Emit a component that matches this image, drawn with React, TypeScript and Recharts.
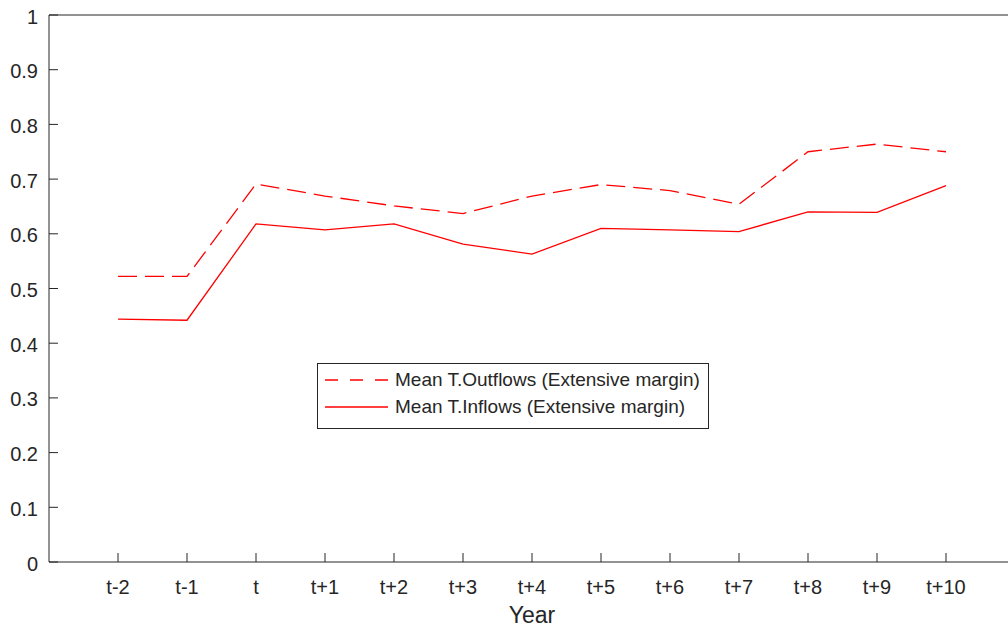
import { Legend, Line, LineChart, ReferenceLine, XAxis, YAxis } from "recharts";

const categories = ["t-2", "t-1", "t", "t+1", "t+2", "t+3", "t+4", "t+5", "t+6", "t+7", "t+8", "t+9", "t+10"];
const outflows = [0.522, 0.522, 0.691, 0.669, 0.651, 0.637, 0.669, 0.69, 0.679, 0.654, 0.75, 0.764, 0.75];
const inflows = [0.444, 0.442, 0.618, 0.607, 0.618, 0.581, 0.563, 0.61, 0.607, 0.604, 0.64, 0.639, 0.688];
const yTicks = [0, 0.1, 0.2, 0.3, 0.4, 0.5, 0.6, 0.7, 0.8, 0.9, 1];
const xTicks = categories.map((_, i) => i + 1);

const data = categories.map((c, i) => ({
  pos: i + 1,
  label: c,
  outflows: outflows[i],
  inflows: inflows[i],
}));

const FONT = "'Liberation Sans', Arial, sans-serif";
const AXIS = "#262626";
const RED = "#ff0000";
const DASH = "19 8";
const LEGEND_DASH = "13 12";

// plot box in page coords (chart sits at the page origin)
const TOP = 15;
const BOTTOM = 562;
const LEFT = 49;
const RIGHT = 1015;

// MATLAB-style ticks point inward
function BottomTick({ x, payload }: any) {
  return (
    <g>
      <line x1={x} x2={x} y1={BOTTOM} y2={BOTTOM - 9} stroke={AXIS} />
      <text x={x} y={BOTTOM + 25} textAnchor="middle" dominantBaseline="central" fill={AXIS} fontSize={20} fontFamily={FONT}>
        {categories[payload.value - 1]}
      </text>
    </g>
  );
}

function TopTick({ x }: any) {
  return <line x1={x} x2={x} y1={TOP} y2={TOP + 9} stroke={AXIS} />;
}

function LeftTick({ y, payload }: any) {
  const v = Number(payload.value);
  return (
    <g>
      <line x1={LEFT} x2={LEFT + 9} y1={y} y2={y} stroke={AXIS} />
      <text x={LEFT - 11} y={y + 1.5} textAnchor="end" dominantBaseline="central" fill={AXIS} fontSize={20} fontFamily={FONT}>
        {String(Number(v.toFixed(1)))}
      </text>
    </g>
  );
}

function RightTick({ y }: any) {
  return <line x1={RIGHT} x2={RIGHT - 9} y1={y} y2={y} stroke={AXIS} />;
}

function LegendBox() {
  const rows = [
    { name: "Mean T.Outflows (Extensive margin)", dash: LEGEND_DASH },
    { name: "Mean T.Inflows (Extensive margin)", dash: undefined },
  ];
  return (
    <div
      style={{
        width: 392,
        height: 66,
        boxSizing: "border-box",
        border: `1px solid ${AXIS}`,
        background: "white",
        fontFamily: FONT,
        fontSize: 19,
        color: AXIS,
        position: "relative",
      }}
    >
      {rows.map((r, i) => (
        <div key={r.name} style={{ position: "absolute", left: 0, top: 16 + i * 27 - 12, height: 24, display: "flex", alignItems: "center" }}>
          <svg width={77} height={24} style={{ display: "block" }}>
            <line x1={7} x2={70} y1={12} y2={12} stroke={RED} strokeWidth={1.3} strokeDasharray={r.dash} />
          </svg>
          <span style={{ whiteSpace: "nowrap" }}>{r.name}</span>
        </div>
      ))}
    </div>
  );
}

export default function App() {
  return (
    <div style={{ position: "fixed", top: 0, left: 0, width: 1008, height: 628, overflow: "hidden", background: "white" }}>
      <LineChart
        width={RIGHT}
        height={628}
        data={data}
        margin={{ top: TOP, right: 0, bottom: 0, left: 8 }}
      >
        <XAxis
          dataKey="pos"
          type="number"
          domain={[0, 14]}
          ticks={xTicks}
          interval={0}
          height={628 - BOTTOM}
          stroke={AXIS}
          tickLine={false}
          tickSize={0}
          tickMargin={0}
          tick={<BottomTick />}
          label={{ value: "Year", position: "insideBottom", offset: 5, fill: AXIS, fontSize: 23, fontFamily: FONT }}
        />
        <XAxis
          xAxisId="top"
          orientation="top"
          type="number"
          domain={[0, 14]}
          ticks={xTicks}
          interval={0}
          height={0}
          stroke={AXIS}
          tickLine={false}
          tickSize={0}
          tickMargin={0}
          tick={<TopTick />}
        />
        <YAxis
          type="number"
          domain={[0, 1]}
          ticks={yTicks}
          interval={0}
          width={LEFT - 8}
          stroke={AXIS}
          tickLine={false}
          tickSize={0}
          tickMargin={0}
          tick={<LeftTick />}
        />
        <YAxis
          yAxisId="right"
          orientation="right"
          type="number"
          domain={[0, 1]}
          ticks={yTicks}
          interval={0}
          width={0}
          stroke={AXIS}
          tickLine={false}
          tickSize={0}
          tickMargin={0}
          tick={<RightTick />}
        />
        <ReferenceLine y={1} stroke={AXIS} />
        <Legend
          layout="horizontal"
          verticalAlign="middle"
          align="center"
          content={<LegendBox />}
          wrapperStyle={{ left: 317, top: 363, width: 392 }}
        />
        <Line
          type="linear"
          dataKey="outflows"
          name="Mean T.Outflows (Extensive margin)"
          stroke={RED}
          strokeWidth={1.3}
          strokeDasharray={DASH}
          dot={false}
          isAnimationActive={false}
        />
        <Line
          type="linear"
          dataKey="inflows"
          name="Mean T.Inflows (Extensive margin)"
          stroke={RED}
          strokeWidth={1.3}
          dot={false}
          isAnimationActive={false}
        />
      </LineChart>
    </div>
  );
}
